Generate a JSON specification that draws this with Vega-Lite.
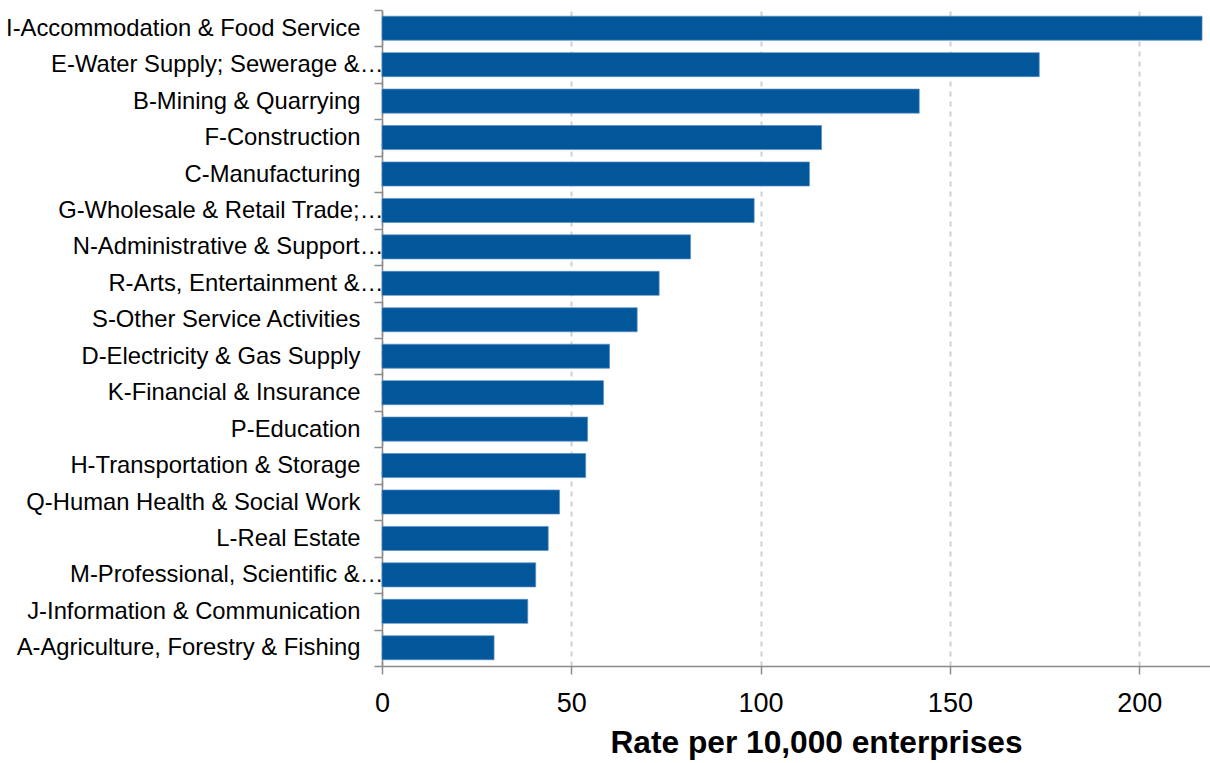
{
  "$schema": "https://vega.github.io/schema/vega-lite/v6.json",
  "width": 828,
  "height": 656,
  "autosize": {"type": "none"},
  "padding": {"left": 382, "top": 10, "right": 0, "bottom": 97},
  "background": "white",
  "config": {"view": {"stroke": null}},
  "data": {
    "values": [
      {"sector": "I-Accommodation & Food Service", "rate": 216.6},
      {"sector": "E-Water Supply; Sewerage &…", "rate": 173.6},
      {"sector": "B-Mining & Quarrying", "rate": 141.9},
      {"sector": "F-Construction", "rate": 116.1},
      {"sector": "C-Manufacturing", "rate": 112.9},
      {"sector": "G-Wholesale & Retail Trade;…", "rate": 98.3},
      {"sector": "N-Administrative & Support…", "rate": 81.5},
      {"sector": "R-Arts, Entertainment &…", "rate": 73.2},
      {"sector": "S-Other Service Activities", "rate": 67.4},
      {"sector": "D-Electricity & Gas Supply", "rate": 60.1},
      {"sector": "K-Financial & Insurance", "rate": 58.5},
      {"sector": "P-Education", "rate": 54.3},
      {"sector": "H-Transportation & Storage", "rate": 53.8},
      {"sector": "Q-Human Health & Social Work", "rate": 46.9},
      {"sector": "L-Real Estate", "rate": 43.9},
      {"sector": "M-Professional, Scientific &…", "rate": 40.6},
      {"sector": "J-Information & Communication", "rate": 38.5},
      {"sector": "A-Agriculture, Forestry & Fishing", "rate": 29.6}
    ]
  },
  "mark": {"type": "bar", "height": {"band": 0.66}, "color": "#02569A", "stroke": "#5a90c6", "strokeWidth": 1, "strokeOpacity": 0.7},
  "encoding": {
    "y": {
      "field": "sector",
      "type": "nominal",
      "sort": null,
      "scale": {"paddingInner": 0, "paddingOuter": 0},
      "axis": {
        "title": null,
        "tickBand": "extent",
        "grid": false,
        "domainColor": "#8c8c8c",
        "domainWidth": 1.5,
        "tickColor": "#8c8c8c",
        "tickWidth": 1.5,
        "tickSize": 8,
        "labelFont": "Liberation Sans",
        "labelFontSize": 23.8,
        "labelColor": "#000000",
        "labelLimit": 400,
        "labelPadding": {"condition": {"test": "indexof(datum.label, '…') >= 0", "value": -9}, "value": 14}
      }
    },
    "x": {
      "field": "rate",
      "type": "quantitative",
      "scale": {"domain": [0, 218.7], "nice": false, "zero": true},
      "axis": {
        "title": "Rate per 10,000 enterprises",
        "values": [0, 50, 100, 150, 200],
        "grid": true,
        "gridColor": "#cfcfcf",
        "gridWidth": 2,
        "gridDash": [5, 5],
        "domainColor": "#8c8c8c",
        "domainWidth": 1.5,
        "tickColor": "#8c8c8c",
        "tickWidth": 1.5,
        "tickSize": 8,
        "labelFont": "Liberation Sans",
        "labelFontSize": 27,
        "labelColor": "#000000",
        "labelPadding": 16,
        "labelFlush": false,
        "titleFont": "Liberation Sans",
        "titleFontSize": 31.7,
        "titleFontWeight": "bold",
        "titleColor": "#000000",
        "titleX": 434,
        "titleY": 86,
        "titleAlign": "center",
        "titleBaseline": "alphabetic",
        "titleAnchor": null
      }
    }
  }
}
